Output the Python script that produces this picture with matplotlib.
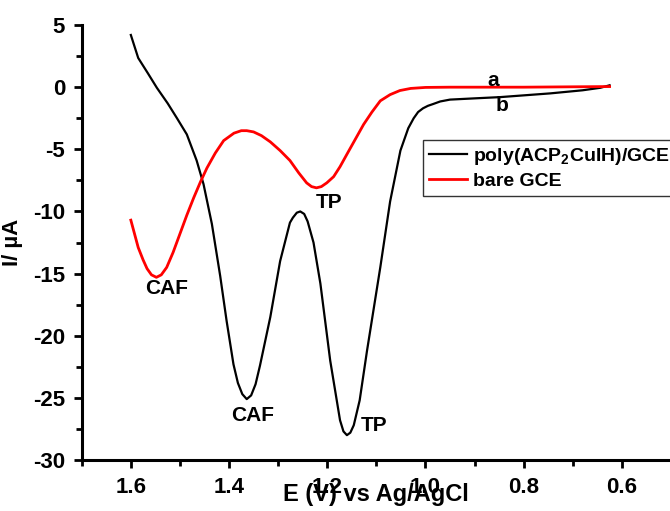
import matplotlib
matplotlib.use('Agg')
import matplotlib.pyplot as plt
from matplotlib.ticker import MultipleLocator

# poly(ACP2CuIH)/GCE  (curve b)
e_poly = [1.600, 1.585, 1.565, 1.547, 1.525, 1.506, 1.486, 1.466, 1.452, 1.435,
          1.418, 1.405, 1.391, 1.382, 1.373, 1.364, 1.355, 1.346, 1.337, 1.316,
          1.296, 1.276, 1.270, 1.262, 1.255, 1.247, 1.240, 1.228, 1.214, 1.194,
          1.174, 1.167, 1.160, 1.153, 1.146, 1.134, 1.119, 1.092, 1.072, 1.051,
          1.035, 1.024, 1.015, 1.005, 0.995, 0.984, 0.970, 0.950, 0.900, 0.848,
          0.746, 0.680, 0.644, 0.625]
i_poly = [4.2, 2.35, 1.1, -0.05, -1.3, -2.5, -3.8, -5.9, -7.8, -11.0,
          -15.2, -18.8, -22.3, -23.8, -24.7, -25.1, -24.8, -23.9, -22.4, -18.5,
          -14.0, -10.9, -10.5, -10.1, -10.0, -10.2, -10.8, -12.5, -15.8, -22.0,
          -26.8, -27.7, -28.0, -27.8, -27.2, -25.2, -21.2, -14.5, -9.2, -5.1,
          -3.3, -2.5, -2.0, -1.7, -1.5, -1.35, -1.15, -1.0, -0.9, -0.8,
          -0.5, -0.25, -0.05, 0.15]

# bare GCE  (curve a)
e_bare = [1.600, 1.585, 1.575, 1.567, 1.558, 1.548, 1.538, 1.527, 1.514, 1.500,
          1.486, 1.472, 1.458, 1.445, 1.428, 1.411, 1.390, 1.375, 1.364, 1.350,
          1.334, 1.316, 1.296, 1.276, 1.258, 1.242, 1.232, 1.222, 1.212, 1.201,
          1.187, 1.174, 1.160, 1.143, 1.126, 1.109, 1.092, 1.072, 1.052, 1.030,
          1.000, 0.950, 0.800, 0.700, 0.625]
i_bare = [-10.7, -12.9, -13.9, -14.6, -15.1, -15.3, -15.1, -14.5, -13.3, -11.8,
          -10.3, -8.9, -7.6, -6.5, -5.3, -4.3, -3.7, -3.5, -3.5, -3.6,
          -3.9, -4.4, -5.1, -5.9, -6.9, -7.7, -8.0, -8.1, -8.0, -7.7,
          -7.2, -6.4, -5.4, -4.2, -3.0, -2.0, -1.1, -0.6, -0.27, -0.1,
          -0.02, 0.0, 0.0, 0.03, 0.05]

# peak labels: text, E, I
peak_labels = [('CAF', 1.527, -16.2), ('TP', 1.196, -9.3),
               ('CAF', 1.353, -26.4), ('TP', 1.105, -27.2),
               ('a', 0.862, 0.5), ('b', 0.844, -1.5)]

plt.rcParams['font.family'] = ['Liberation Sans', 'DejaVu Sans']
plt.rcParams['font.weight'] = 'bold'
plt.rcParams['axes.unicode_minus'] = False
plt.rcParams['mathtext.fontset'] = 'custom'
plt.rcParams['mathtext.rm'] = 'Liberation Sans:bold'
plt.rcParams['mathtext.it'] = 'Liberation Sans:bold'
plt.rcParams['mathtext.bf'] = 'Liberation Sans:bold'

fig = plt.figure(figsize=(6.7, 5.11), dpi=100)
ax = fig.add_axes([0.122, 0.0998, 0.878, 0.8512])

ax.plot(e_poly, i_poly, color='black', lw=1.6, label='poly(ACP$_2$CuIH)/GCE')
ax.plot(e_bare, i_bare, color='red', lw=2.0, label='bare GCE')

for txt, e, i in peak_labels:
    ax.text(e, i, txt, fontsize=15, fontweight='bold', ha='center', va='center')

ax.set_xlim(1.70, 0.502)
ax.set_ylim(-30, 5)
ax.xaxis.set_major_locator(MultipleLocator(0.2))
ax.xaxis.set_minor_locator(MultipleLocator(0.1))
ax.yaxis.set_major_locator(MultipleLocator(5))
ax.yaxis.set_minor_locator(MultipleLocator(2.5))

for s in ['top', 'right']:
    ax.spines[s].set_visible(False)
for s in ['left', 'bottom']:
    ax.spines[s].set_linewidth(2.2)

ax.tick_params(which='major', direction='out', length=6, width=2, labelsize=16, pad=6)
ax.tick_params(which='minor', direction='out', length=4, width=2)
for lab in ax.get_xticklabels() + ax.get_yticklabels():
    lab.set_fontweight('bold')

ax.set_xlabel('E (V) vs Ag/AgCl', fontsize=17, fontweight='bold')
ax.xaxis.set_label_coords(0.5, -0.054)
ax.set_ylabel('I/ \u00b5A', fontsize=16, fontweight='bold')
ax.yaxis.set_label_coords(-0.1, 0.5)

leg = ax.legend(loc='upper left', bbox_to_anchor=(0.631, 0.726),
                bbox_transform=fig.transFigure, fontsize=14, frameon=True,
                fancybox=False, framealpha=1, borderpad=0.3, borderaxespad=0,
                handlelength=2.0, handletextpad=0.3, labelspacing=0.3)
leg.get_frame().set_edgecolor('#333333')
leg.get_frame().set_linewidth(1.0)

fig.savefig('out.png', dpi=100)
